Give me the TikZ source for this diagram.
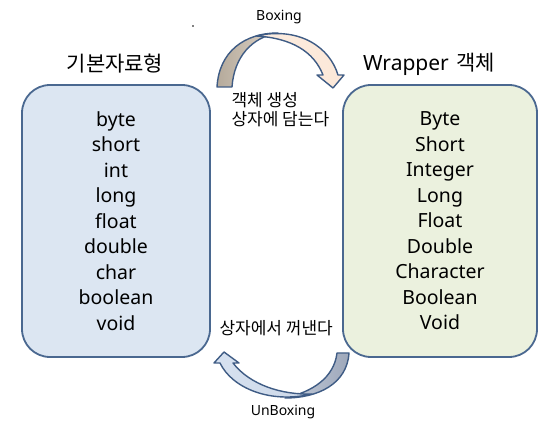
\documentclass[tikz,border=0pt]{standalone}
\usepackage{fontspec}
\setmainfont{Noto Sans}
\newfontfamily\kr{Noto Sans CJK KR}
\usepackage{tikz}
\definecolor{boxblue}{RGB}{220,230,242}
\definecolor{boxgreen}{RGB}{235,241,222}
\definecolor{edgeblue}{RGB}{74,104,144}
\definecolor{arrowedge}{RGB}{63,92,133}
\definecolor{taupedark}{RGB}{181,170,155}
\definecolor{taupelight}{RGB}{222,212,200}
\definecolor{peach}{RGB}{252,232,216}
\definecolor{slatedark}{RGB}{158,168,186}
\definecolor{slatelight}{RGB}{196,204,218}
\definecolor{paleblue}{RGB}{214,225,240}

\begin{document}
\begin{tikzpicture}[x=1pt, y=-1pt,
  typebox/.style={draw=edgeblue, line width=1.8pt, rounded corners=28pt,
    minimum height=272pt, align=center,
    font=\fontsize{19.5}{25.5}\selectfont},
  arrowpart/.style={draw=arrowedge, line width=1.4pt, line join=round},
  title/.style={font=\kr\fontsize{21}{24}\selectfont},
  small/.style={font=\fontsize{14}{16}\selectfont},
  note/.style={font=\kr\fontsize{17}{19}\selectfont}]

\fill[white] (0,0) rectangle (549,430);
\useasboundingbox (0,0) rectangle (549,430);

% Primitive types
\node[typebox, fill=boxblue, minimum width=188pt] (prim) at (116,221)
  {byte\\short\\int\\long\\float\\double\\char\\boolean\\void};
\node[title] (primtitle) at (115,64) {기본자료형};

% Wrapper classes
\node[typebox, fill=boxgreen, minimum width=194pt] (wrap) at (440,221)
  {Byte\\Short\\Integer\\Long\\Float\\Double\\Character\\Boolean\\Void};
\node[title] (wraptitle) at (429,64) {{\fontspec{Noto Sans}Wrapper}\hspace{0.35em}객체};

% Boxing arrow (back band, then front band with head)
\shade[arrowpart, left color=taupedark, right color=taupelight]
  (217,87) .. controls (219,52) and (244,33) .. (278,33)
  .. controls (252,37) and (234,57) .. (232,87) -- cycle;
\shade[arrowpart, left color=peach!80!white, right color=peach]
  (256,36) .. controls (300,26) and (330,48) .. (338,75)
  -- (344,75) -- (333,88) -- (317,75) -- (323,75)
  .. controls (314,52) and (292,38) .. (256,36) -- cycle;

% UnBoxing arrow
\shade[arrowpart, left color=slatelight, right color=slatedark]
  (349,353) .. controls (347,384) and (318,398) .. (285,398)
  .. controls (312,392) and (334,378) .. (337,353) -- cycle;
\shade[arrowpart, left color=paleblue, right color=paleblue!85!slatedark]
  (312,394) .. controls (270,404) and (232,388) .. (220,363)
  -- (214,363) -- (224,352) -- (239,363) -- (233,363)
  .. controls (250,385) and (282,395) .. (312,394) -- cycle;

% Labels
\node[small] (boxing) at (279,17) {Boxing};
\node[small] (unboxing) at (283,412) {UnBoxing};
\node[note, anchor=west, align=left] (boxnote)
  at (228,110) {객체 생성\\상자에 담는다};
\node[note, anchor=west] (unboxnote) at (216,328) {상자에서 꺼낸다};

\fill (193,26) circle (0.9);
\end{tikzpicture}
\end{document}
